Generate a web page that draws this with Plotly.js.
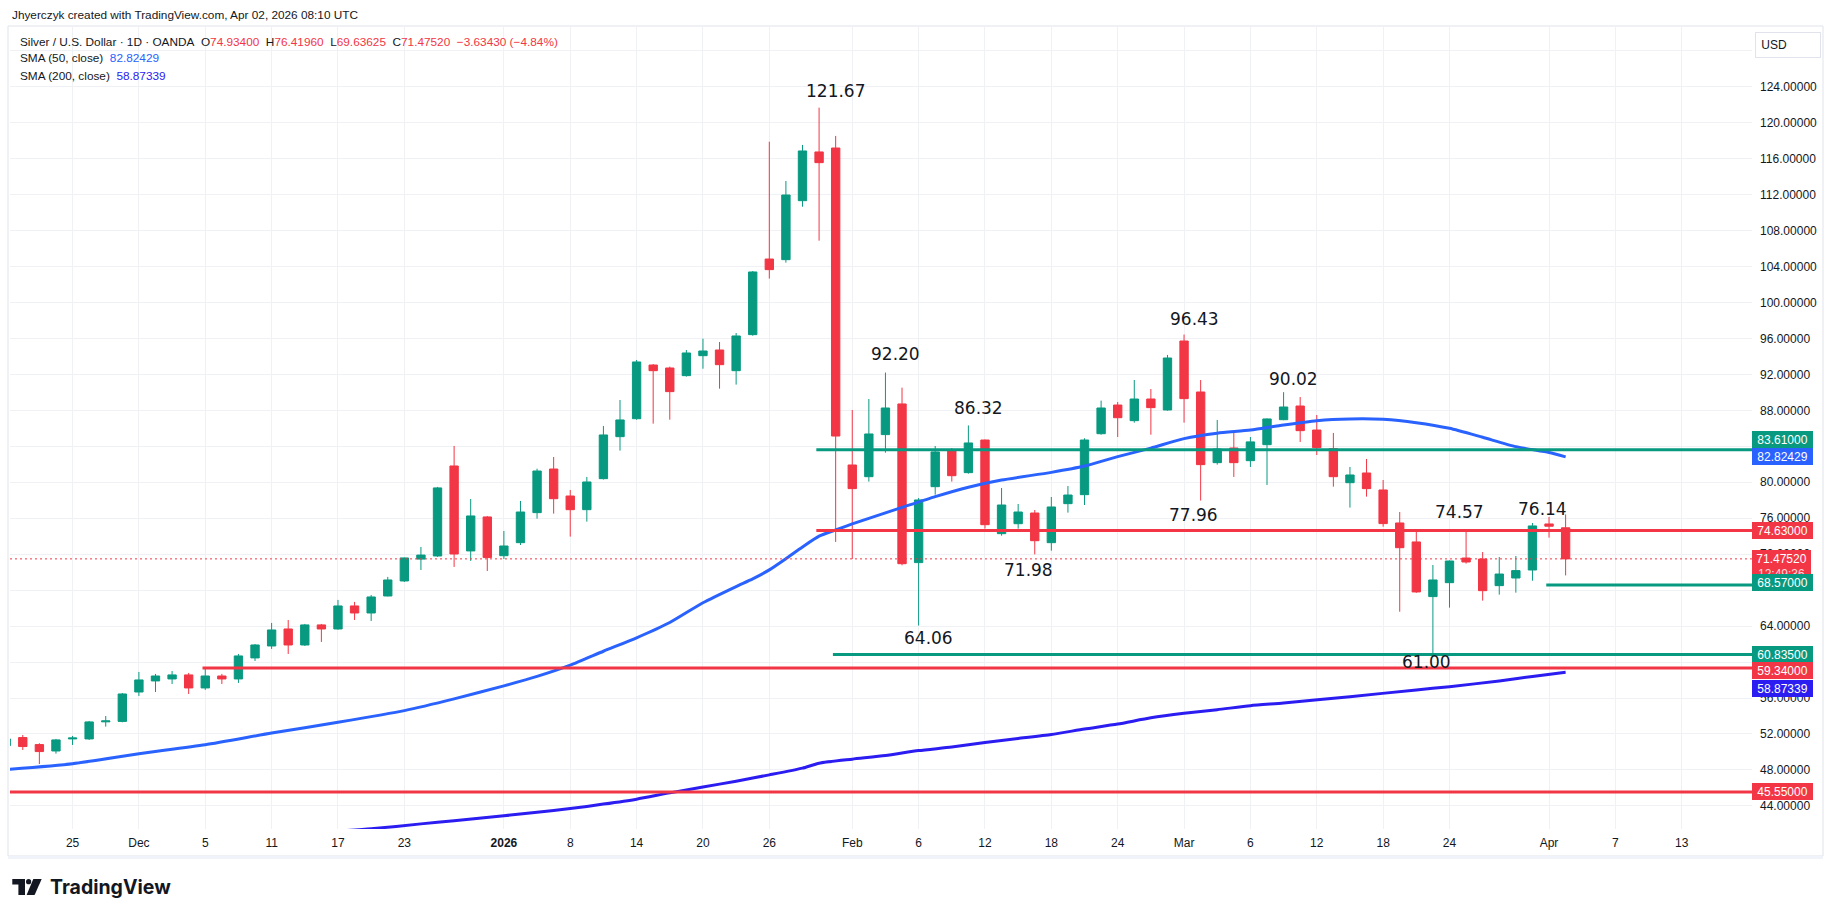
<!DOCTYPE html>
<html>
<head>
<meta charset="utf-8">
<script src="https://cdn.plot.ly/plotly-3.0.1.min.js"></script>
<style>
  html, body { margin: 0; padding: 0; background: #ffffff; }
  #chart { width: 1835px; height: 917px; }
</style>
</head>
<body>
<div id="chart"></div>
<script>
// ---- Daily sessions (XAG/USD, OANDA) ----
const dates = [
  '2025-11-19','2025-11-20','2025-11-21','2025-11-24','2025-11-25','2025-11-26','2025-11-27','2025-11-28',
  '2025-12-01','2025-12-02','2025-12-03','2025-12-04','2025-12-05',
  '2025-12-08','2025-12-09','2025-12-10','2025-12-11','2025-12-12',
  '2025-12-15','2025-12-16','2025-12-17','2025-12-18','2025-12-19',
  '2025-12-22','2025-12-23','2025-12-24','2025-12-26',
  '2025-12-29','2025-12-30','2025-12-31',
  '2026-01-02',
  '2026-01-05','2026-01-06','2026-01-07','2026-01-08','2026-01-09',
  '2026-01-12','2026-01-13','2026-01-14','2026-01-15','2026-01-16',
  '2026-01-19','2026-01-20','2026-01-21','2026-01-22','2026-01-23',
  '2026-01-26','2026-01-27','2026-01-28','2026-01-29','2026-01-30',
  '2026-02-02','2026-02-03','2026-02-04','2026-02-05','2026-02-06',
  '2026-02-09','2026-02-10','2026-02-11','2026-02-12','2026-02-13',
  '2026-02-16','2026-02-17','2026-02-18','2026-02-19','2026-02-20',
  '2026-02-23','2026-02-24','2026-02-25','2026-02-26','2026-02-27',
  '2026-03-02','2026-03-03','2026-03-04','2026-03-05','2026-03-06',
  '2026-03-09','2026-03-10','2026-03-11','2026-03-12','2026-03-13',
  '2026-03-16','2026-03-17','2026-03-18','2026-03-19','2026-03-20',
  '2026-03-23','2026-03-24','2026-03-25','2026-03-26','2026-03-27',
  '2026-03-30','2026-03-31',
  '2026-04-01','2026-04-02'
];

const open = [
  50.70, 51.60, 50.82, 50.11, 51.45, 51.45, 53.35, 53.40,
  56.67, 57.90, 58.12, 58.57, 57.12,
  58.45, 58.12, 60.46, 61.79, 63.68,
  61.90, 64.13, 63.68, 66.24, 65.46,
  67.35, 69.02, 71.45, 71.80,
  81.81, 72.36, 76.14,
  71.83,
  73.28, 76.62, 81.47, 78.47, 76.95,
  80.40, 85.07, 87.07, 93.04, 92.71,
  91.86, 94.08, 94.71, 92.41, 96.42,
  104.83, 104.76, 111.32, 116.74, 117.18,
  81.92, 80.62, 85.30, 88.71, 71.06,
  79.51, 83.59, 81.07, 84.70, 74.28,
  75.39, 76.58, 73.28, 77.62, 78.62,
  85.40, 88.59, 86.85, 89.26, 88.04,
  95.71, 90.04, 82.18, 83.81, 82.40,
  84.18, 86.96, 88.48, 85.81, 83.74,
  79.95, 81.03, 79.14, 75.47, 73.36,
  67.28, 68.83, 71.57, 71.46, 68.50,
  69.35, 70.24,
  75.36, 74.934
];

const high = [
  51.60, 51.89, 50.97, 51.45, 51.78, 53.45, 54.00, 56.56,
  58.90, 58.68, 59.00, 58.79, 59.34,
  58.68, 60.90, 62.01, 64.35, 64.68,
  64.24, 64.24, 66.91, 66.69, 67.46,
  69.47, 71.62, 72.80, 79.48,
  84.04, 78.14, 76.25,
  74.58,
  77.92, 81.51, 82.81, 79.14, 80.59,
  86.26, 89.15, 93.60, 93.15, 92.86,
  94.71, 95.97, 95.60, 96.60, 103.50,
  117.88, 113.51, 117.52, 121.67, 118.52,
  88.04, 89.26, 92.20, 90.52, 78.25,
  84.03, 83.81, 86.32, 84.75, 79.36,
  77.58, 76.91, 78.36, 79.58, 84.89,
  89.08, 88.93, 91.37, 90.37, 94.16,
  96.43, 91.37, 86.93, 85.70, 85.03,
  87.10, 90.02, 89.48, 87.48, 85.48,
  81.70, 82.59, 80.25, 76.69, 74.50,
  70.80, 71.30, 74.57, 72.24, 71.69,
  71.80, 75.47,
  76.14, 76.4196
];

const low = [
  50.40, 50.22, 48.66, 49.81, 50.78, 51.34, 52.82, 53.30,
  56.23, 56.67, 57.56, 56.45, 56.90,
  57.56, 57.68, 60.12, 61.46, 60.90,
  61.79, 62.24, 63.60, 64.68, 64.57,
  67.30, 68.91, 70.24, 71.70,
  70.58, 71.25, 70.13,
  71.46,
  73.02, 75.95, 76.51, 73.95, 75.62,
  80.30, 83.52, 86.95, 86.52, 86.96,
  91.75, 92.63, 90.41, 90.86, 96.30,
  102.65, 104.43, 110.65, 106.87, 73.36,
  71.46, 80.07, 83.29, 70.76, 64.06,
  78.62, 80.07, 80.95, 74.84, 74.06,
  74.84, 71.98, 72.39, 76.62, 77.47,
  85.29, 85.03, 86.63, 85.29, 87.96,
  86.63, 77.96, 81.96, 80.59, 81.70,
  79.70, 86.90, 84.48, 83.03, 79.51,
  77.18, 78.40, 75.06, 65.60, 67.70,
  61.00, 66.05, 70.95, 66.83, 67.50,
  67.72, 69.05,
  73.84, 69.63625
];

const close = [
  51.45, 50.60, 50.04, 51.34, 51.55, 53.34, 53.45, 56.45,
  58.01, 58.45, 58.57, 57.12, 58.45,
  58.12, 60.68, 61.90, 63.57, 61.90,
  64.13, 63.68, 66.24, 65.46, 67.24,
  69.13, 71.58, 71.90, 79.37,
  72.02, 76.25, 71.62,
  72.91,
  76.69, 81.25, 78.17, 76.95, 80.03,
  85.26, 86.93, 93.38, 92.41, 90.08,
  94.38, 94.60, 93.08, 96.27, 103.39,
  103.65, 111.95, 116.85, 115.55, 85.14,
  79.29, 85.37, 88.26, 70.94, 78.03,
  83.37, 80.73, 84.37, 75.28, 77.47,
  76.69, 73.50, 77.25, 78.58, 84.70,
  88.26, 87.18, 89.26, 88.30, 93.82,
  89.30, 81.96, 83.70, 82.18, 84.49,
  87.04, 88.37, 85.74, 83.85, 80.62,
  80.81, 79.29, 75.40, 72.72, 67.80,
  69.13, 71.24, 71.13, 67.94, 69.79,
  70.17, 75.14,
  75.1095, 71.4752
];

// ---- Moving averages ----
const sma50Dates = [
  '2025-11-19','2025-11-25','2025-12-01','2025-12-05','2025-12-11','2025-12-17','2025-12-23','2025-12-29',
  '2026-01-02','2026-01-06','2026-01-08','2026-01-12','2026-01-14','2026-01-16','2026-01-20','2026-01-22',
  '2026-01-23','2026-01-26','2026-01-27','2026-01-28','2026-01-29','2026-01-30','2026-02-02','2026-02-04',
  '2026-02-05','2026-02-09','2026-02-11','2026-02-13','2026-02-18','2026-02-20','2026-02-24','2026-02-26',
  '2026-03-02','2026-03-04','2026-03-06','2026-03-10','2026-03-12','2026-03-16','2026-03-18','2026-03-20',
  '2026-03-24','2026-03-26','2026-03-30','2026-04-01','2026-04-02'
];
const sma50 = [
  48.05, 48.70, 49.80, 50.80, 52.10, 53.30, 54.60, 55.90,
  57.35, 58.40, 59.65, 61.20, 62.70, 64.40, 66.60, 68.40,
  69.25, 70.25, 71.50, 72.80, 74.00, 74.70, 75.36, 76.60,
  77.20, 78.40, 79.45, 80.25, 81.10, 81.80, 82.85, 83.80,
  84.85, 85.45, 85.80, 86.37, 86.85, 87.04, 87.00, 86.63,
  86.00, 85.00, 83.96, 83.30, 82.82429
];

const sma200Dates = [
  '2025-12-17','2025-12-19','2025-12-24','2025-12-29','2026-01-02','2026-01-06','2026-01-08','2026-01-12',
  '2026-01-14','2026-01-16','2026-01-20','2026-01-22','2026-01-26','2026-01-28','2026-01-29','2026-02-02',
  '2026-02-04','2026-02-06','2026-02-10','2026-02-12','2026-02-16','2026-02-18','2026-02-20','2026-02-24',
  '2026-02-26','2026-03-02','2026-03-04','2026-03-06','2026-03-10','2026-03-16','2026-03-20','2026-03-24',
  '2026-03-27','2026-03-31','2026-04-02'
];
const sma200 = [
  41.20, 41.45, 42.00, 42.35, 42.90, 43.30, 43.70, 44.20,
  44.75, 45.45, 46.10, 46.75, 47.45, 48.20, 48.75, 49.20,
  49.60, 50.15, 50.55, 51.05, 51.50, 51.95, 52.55, 53.10,
  53.80, 54.30, 54.70, 55.15, 55.45, 56.15, 56.90, 57.26,
  57.90, 58.40, 58.87339
];

// ---- Horizontal levels ----
const levelPrices = [83.61, 74.63, 68.57, 60.835, 59.34, 45.55];
const levelColors = ['#089981', '#f23645', '#089981', '#089981', '#f23645', '#f23645'];
const levelFrom   = ['2026-01-29', '2026-01-29', '2026-04-01', '2026-01-30', '2025-12-05', null];

// ---- Swing points marked with their price ----
const pivotDates = ['2026-01-29','2026-02-04','2026-02-11','2026-03-02','2026-03-10',
                    '2026-03-03','2026-02-17','2026-02-06','2026-03-25','2026-04-01','2026-03-23'];
const pivotSide  = ['high','high','high','high','high','low','low','low','high','high','low'];
const pivotShift = [[16,17],[10,19],[10,17],[10,16],[10,13],[-7,-14],[-6,-16],[10,-12],[-7,19],[-7,8],[-6,-9]];

// ---- Axis ticks ----
const xTickDates = ['2025-11-25','2025-12-01','2025-12-05','2025-12-11','2025-12-17','2025-12-23',
                    '2026-01-02','2026-01-08','2026-01-14','2026-01-20','2026-01-26',
                    '2026-02-02','2026-02-06','2026-02-12','2026-02-18','2026-02-24',
                    '2026-03-02','2026-03-06','2026-03-12','2026-03-18','2026-03-24',
                    '2026-04-01','2026-04-07','2026-04-13'];
const xTickText  = ['25','Dec','5','11','17','23','<b>2026</b>','8','14','20','26',
                    'Feb','6','12','18','24','Mar','6','12','18','24','Apr','7','13'];
const yTicks = [44,48,52,56,60,64,68,72,76,80,84,88,92,96,100,104,108,112,116,120,124,128];
// scale values sitting under a price tag or the currency button carry no label
const yTicksCovered = [60, 68, 84, 128];
const countdown = '12:49:36';

// ---- Colours ----
const UP = '#089981', DOWN = '#f23645', SMA50C = '#2962ff', SMA200C = '#2b1cf2', TXT = '#131722';

// ---- Page geometry (pixels) ----
const W = 1835, H = 917;
const PL = 10, PR = 1752, PT = 26, PB = 829;
const fx = px => (px - PL) / (PR - PL);
const fy = py => (PB - py) / (PB - PT);
const noon = d => d + ' 12:00';
const fmt5 = v => v.toFixed(5);

const n = close.length - 1;
const chg = close[n] - close[n - 1];
const pct = chg / close[n - 1] * 100;
const signed = (v, digits) => (v < 0 ? '\u2212' : '+') + Math.abs(v).toFixed(digits);
const red = s => '<span style="color:' + DOWN + '">' + s + '</span>';
const sp = '\u00a0\u00a0';

const traces = [
  {
    type: 'candlestick',
    x: dates.map(noon), open: open, high: high, low: low, close: close,
    increasing: { line: { color: UP, width: 1 }, fillcolor: UP },
    decreasing: { line: { color: DOWN, width: 1 }, fillcolor: DOWN },
    whiskerwidth: 0, hoverinfo: 'skip', showlegend: false
  },
  {
    type: 'scatter', mode: 'lines', x: sma50Dates.map(noon), y: sma50,
    line: { color: SMA50C, width: 3, shape: 'spline', smoothing: 0.6 },
    hoverinfo: 'skip', showlegend: false
  },
  {
    type: 'scatter', mode: 'lines', x: sma200Dates.map(noon), y: sma200,
    line: { color: SMA200C, width: 3, shape: 'spline', smoothing: 0.6 },
    hoverinfo: 'skip', showlegend: false
  }
];

const xRange = ['2025-11-19 17:31', '2026-04-17 17:38'];

const shapes = [];
// chart pane frame
shapes.push({ type: 'rect', xref: 'paper', yref: 'paper', x0: fx(8), x1: fx(1823), y0: fy(856), y1: fy(26),
  line: { color: '#e0e3eb', width: 1 }, fillcolor: 'rgba(0,0,0,0)', layer: 'below' });
shapes.push({ type: 'rect', xref: 'paper', yref: 'paper', x0: fx(8), x1: fx(1823), y0: fy(859), y1: fy(856),
  line: { width: 0 }, fillcolor: '#f0f3fa', layer: 'below' });
// level lines
levelPrices.forEach((p, i) => {
  shapes.push({ type: 'line', xref: 'x', yref: 'y',
    x0: levelFrom[i] ? levelFrom[i] + ' 08:00' : xRange[0], x1: '2026-05-15',
    y0: p, y1: p, line: { color: levelColors[i], width: 3 }, layer: 'above' });
});
// last price
shapes.push({ type: 'line', xref: 'paper', yref: 'y', x0: 0, x1: 1, y0: close[n], y1: close[n],
  line: { color: DOWN, width: 1, dash: '2px,3px' }, layer: 'above' });
// logo mark
const pth = pts => 'M ' + pts.map(p => fx(p[0]) + ' ' + fy(p[1])).join(' L ') + ' Z';
shapes.push({ type: 'path', xref: 'paper', yref: 'paper', line: { width: 0 }, fillcolor: '#131722',
  path: pth([[12.3,879],[25,879],[25,895],[18.4,895],[18.4,884.4],[12.3,884.4]]) });
shapes.push({ type: 'circle', xref: 'paper', yref: 'paper', line: { width: 0 }, fillcolor: '#131722',
  x0: fx(26), x1: fx(31.2), y0: fy(884.3), y1: fy(879) });
shapes.push({ type: 'path', xref: 'paper', yref: 'paper', line: { width: 0 }, fillcolor: '#131722',
  path: pth([[33.3,879],[41.7,879],[34.6,895],[26.6,895]]) });

const annotations = [];
const txt = (x, y, text, size, family) => ({
  xref: 'paper', yref: 'paper', x: fx(x), y: fy(y), xanchor: 'left', yanchor: 'middle',
  text: text, showarrow: false,
  font: { family: family || 'Liberation Sans, Arial, sans-serif', size: size, color: TXT }
});

annotations.push(txt(10, 15, 'Jhyerczyk created with TradingView.com, Apr 02, 2026 08:10 UTC', 11.8));
annotations.push(txt(18, 42,
  'Silver / U.S. Dollar \u00b7 1D \u00b7 OANDA' + sp +
  'O' + red(fmt5(open[n])) + sp + 'H' + red(fmt5(high[n])) + sp +
  'L' + red(fmt5(low[n])) + sp + 'C' + red(fmt5(close[n])) + sp +
  red(signed(chg, 5) + ' (' + signed(pct, 2) + '%)'), 11.8));
annotations.push(txt(18, 58, 'SMA (50, close)\u00a0\u00a0<span style="color:' + SMA50C + '">' + fmt5(sma50[sma50.length - 1]) + '</span>', 11.8));
annotations.push(txt(18, 76, 'SMA (200, close)\u00a0\u00a0<span style="color:' + SMA200C + '">' + fmt5(sma200[sma200.length - 1]) + '</span>', 11.8));

// swing labels
pivotDates.forEach((d, i) => {
  const k = dates.indexOf(d);
  const v = pivotSide[i] === 'high' ? high[k] : low[k];
  annotations.push({ xref: 'x', yref: 'y', x: noon(d), y: v, xshift: pivotShift[i][0], yshift: pivotShift[i][1],
    text: v.toFixed(2), showarrow: false, xanchor: 'center', yanchor: 'middle',
    font: { family: 'DejaVu Sans, sans-serif', size: 17, color: '#131722' } });
});

// price-scale tags
const tag = (v, color, shift, text, h, fcolor) => ({
  xref: 'paper', yref: 'y', x: 1, y: v, xanchor: 'left', yanchor: 'middle', yshift: shift || 0,
  text: text || fmt5(v), showarrow: false, bgcolor: color, borderpad: h ? 1 : 2, borderwidth: 0,
  width: 57, height: h || 13,
  font: { family: 'Liberation Sans, Arial, sans-serif', size: 12, color: fcolor || '#ffffff' }
});
annotations.push(tag(levelPrices[0], levelColors[0], 10));
annotations.push(tag(sma50[sma50.length - 1], SMA50C, 0));
annotations.push(tag(levelPrices[1], levelColors[1], 0));
// last price with the bar countdown under it
annotations.push(tag(close[n], DOWN, 0, null, 15));
annotations.push(tag(close[n], DOWN, -15.5, countdown, 14, 'rgba(255,255,255,0.8)'));
annotations.push(tag(levelPrices[2], levelColors[2], 2.5));
annotations.push(tag(levelPrices[3], levelColors[3], 0));
annotations.push(tag(levelPrices[4], levelColors[4], -2.7));
annotations.push(tag(sma200[sma200.length - 1], SMA200C, -16));
annotations.push(tag(levelPrices[5], levelColors[5], 0));

// currency button
annotations.push({
  xref: 'paper', yref: 'paper', x: fx(1755), y: fy(31.5), xanchor: 'left', yanchor: 'top',
  text: '\u00a0USD', align: 'left', showarrow: false, width: 60, height: 20, borderpad: 2,
  bgcolor: '#ffffff', bordercolor: '#e0e3eb', borderwidth: 1,
  font: { family: 'Liberation Sans, Arial, sans-serif', size: 12, color: TXT }
});

// brand
annotations.push(txt(48, 887, '<b>TradingView</b>', 19.5, 'Inter, Liberation Sans, sans-serif'));

const layout = {
  width: W, height: H,
  margin: { l: PL, r: W - PR, t: PT, b: H - PB, pad: 0 },
  paper_bgcolor: '#ffffff', plot_bgcolor: '#ffffff',
  showlegend: false, hovermode: false, dragmode: false,
  boxgap: 0.28,
  xaxis: {
    type: 'date', range: xRange,
    rangebreaks: [{ bounds: ['sat', 'mon'] }, { values: ['2025-12-25', '2026-01-01'] }],
    rangeslider: { visible: false },
    tickmode: 'array', tickvals: xTickDates.map(noon), ticktext: xTickText,
    showgrid: true, gridcolor: '#f0f1f4', gridwidth: 1,
    zeroline: false, showline: false, ticks: '', ticklabelstandoff: 5,
    tickfont: { family: 'Liberation Sans, Arial, sans-serif', size: 12, color: TXT },
    fixedrange: true
  },
  yaxis: {
    side: 'right', range: [41.43, 130.75],
    tickmode: 'array', tickvals: yTicks,
    ticktext: yTicks.map(v => yTicksCovered.includes(v) ? '' : fmt5(v)),
    showgrid: true, gridcolor: '#f0f1f4', gridwidth: 1,
    zeroline: false, showline: false, ticks: '', ticklabelstandoff: 7,
    tickfont: { family: 'Liberation Sans, Arial, sans-serif', size: 12, color: TXT },
    fixedrange: true
  },
  shapes: shapes,
  annotations: annotations
};

Plotly.newPlot('chart', traces, layout, { staticPlot: true, displayModeBar: false });
</script>
</body>
</html>
